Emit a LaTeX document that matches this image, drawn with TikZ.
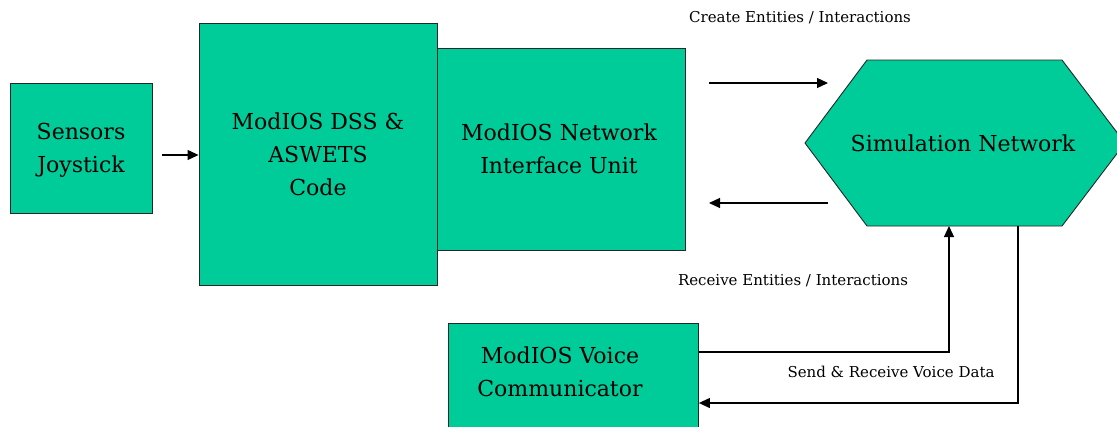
\documentclass[tikz,border=0pt]{standalone}
\usepackage{fontspec}
\setmainfont{DejaVu Serif}
\usetikzlibrary{arrows.meta}
\definecolor{boxgreen}{RGB}{0,204,153}
\tikzset{
  box/.style={draw=black!85, line width=0.9pt, fill=boxgreen, rectangle, inner sep=0pt},
  boxtext/.style={font=\fontsize{22}{33}\selectfont, align=center},
  conn/.style={line width=1.2pt, -{Triangle[length=11pt,width=10pt]}},
  lbl/.style={font=\fontsize{15}{17}\selectfont, inner sep=0pt}
}
\begin{document}
\begin{tikzpicture}[x=1pt,y=-1pt]
\useasboundingbox[fill=white] (0,0) rectangle (1117,426);
% boxes
\node[box, minimum width=142pt, minimum height=130pt] (sens) at (81,148) {};
\node[boxtext] (senst) at (81,150) {Sensors\\Joystick};
\node[box, minimum width=248pt, minimum height=202pt, anchor=west] (niu) at (437,149) {};
\node[box, minimum width=238pt, minimum height=262pt] (dss) at (318,154) {};
\node[boxtext] (dsst) at (318,154) {ModIOS DSS \&\\ASWETS\\Code};
\node[boxtext] (niut) at (559,149) {ModIOS Network\\Interface Unit};
\node[box, minimum width=250pt, minimum height=106pt, anchor=north west] (voice) at (448,323) {};
\node[boxtext] (voicet) at (560,372) {ModIOS Voice\\Communicator};
% hexagon
\draw[draw=black!85, line width=0.9pt, fill=boxgreen] (867,60) -- (1062,60) -- (1125,143) -- (1062,226) -- (867,226) -- (805,143) -- cycle;
\node[font=\fontsize{22}{25}\selectfont] (sim) at (963,143) {Simulation Network};
\coordinate (simbotL) at (949,226);
\coordinate (simbotR) at (1018,226);
% connectors
\coordinate (a1) at (162,155);
\draw[conn] (a1) -- (dss.west |- a1);
\coordinate (c1) at (709,83);
\coordinate (c2) at (828,83);
\draw[conn] (c1) -- (c2);
\coordinate (r1) at (828,203);
\coordinate (r2) at (709,203);
\draw[conn] (r1) -- (r2);
\draw[conn] (voice.east |- 0,352) -| (simbotL);
\draw[conn] (simbotR) |- (voice.east |- 0,403);
% labels
\node[lbl] (lc) at (800,18) {Create Entities / Interactions};
\node[lbl] (lr) at (793,281) {Receive Entities / Interactions};
\node[lbl] (lv) at (891,372) {Send \& Receive Voice Data};
\end{tikzpicture}
\end{document}
